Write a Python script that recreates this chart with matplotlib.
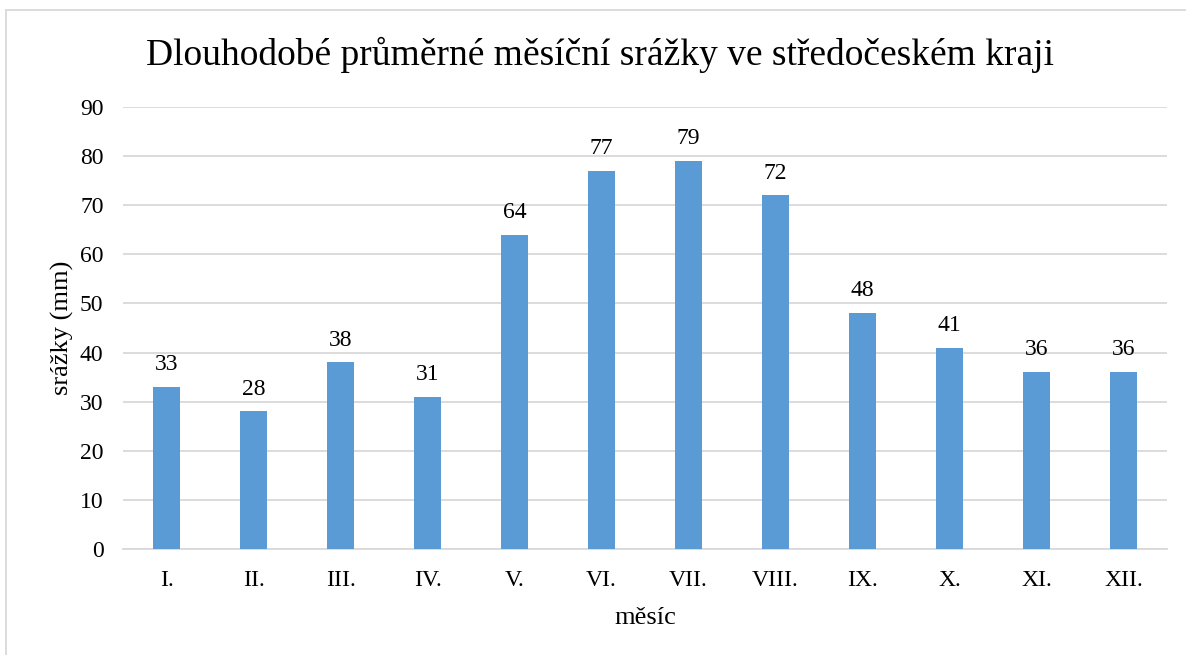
import matplotlib
matplotlib.use("Agg")
import matplotlib.pyplot as plt
from matplotlib.patches import Rectangle

months = ["I.", "II.", "III.", "IV.", "V.", "VI.", "VII.", "VIII.", "IX.", "X.", "XI.", "XII."]
precip = [33, 28, 38, 31, 64, 77, 79, 72, 48, 41, 36, 36]
yticks = [0, 10, 20, 30, 40, 50, 60, 70, 80, 90]

plt.rcParams['font.family'] = ['Liberation Serif', 'DejaVu Serif']

W, H = 1186, 655
fig = plt.figure(figsize=(W/100, H/100), dpi=100)
ax = fig.add_axes([123/W, 1-549/H, (1167-123)/W, (549-107)/H])

x = list(range(len(months)))
ax.bar(x, precip, width=0.32, color='#5B9BD5', zorder=3)
for xi, v in zip(x, precip):
    ax.text(xi, v + 2.4, str(v), ha='center', va='bottom', fontsize=17, color='black')

ax.set_xlim(-0.5, len(months) - 0.5)
ax.set_ylim(0, 90)
ax.set_yticks(yticks)
ax.set_xticks(x)
ax.set_xticklabels(months)
ax.tick_params(axis='both', length=0, labelsize=17, colors='black')
ax.tick_params(axis='x', pad=15)
ax.tick_params(axis='y', pad=14)
ax.yaxis.grid(True, color='#D9D9D9', linewidth=1.3, zorder=0)
for s in ['top', 'right', 'left']:
    ax.spines[s].set_visible(False)
ax.spines['bottom'].set_color('#D9D9D9')
ax.spines['bottom'].set_linewidth(1.3)

ax.set_ylabel('srážky (mm)', fontsize=19, labelpad=4)
ax.set_xlabel('měsíc', fontsize=19, labelpad=12)

fig.text(0.5*(148+1052)/W, 1-55/H, 'Dlouhodobé průměrné měsíční srážky ve středočeském kraji',
         ha='center', va='center', fontsize=27)

fig.patches.append(Rectangle((6/W, -0.1), 1.2, 1-10/H+0.1, transform=fig.transFigure,
                             fill=False, edgecolor='#D9D9D9', linewidth=1.3))

fig.savefig('out.png', dpi=100, facecolor='white')
